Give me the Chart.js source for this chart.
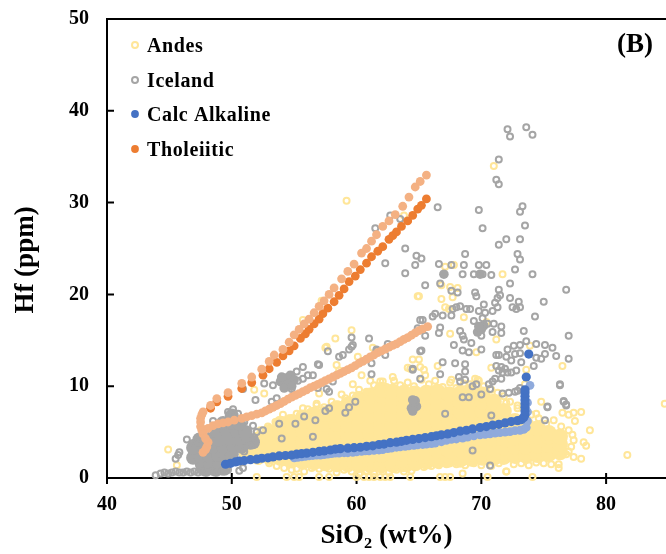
<!DOCTYPE html>
<html>
<head>
<meta charset="utf-8">
<script src="https://cdn.jsdelivr.net/npm/chart.js@4"></script>
<style>
    html, body { margin: 0; padding: 0; background: #fff; overflow: hidden; }
</style>
</head>
<body>
<canvas id="hfChart" width="666" height="554"></canvas>
<script>
// Values: [SiO2, Hf]
const xTicks = [40, 50, 60, 70, 80];
const yTicks = [0, 10, 20, 30, 40, 50];
const legendNames = ['Andes', 'Iceland', 'Calc Alkaline', 'Tholeiitic'];

// Dense part of the Andes cloud, one row per SiO2 column: [x, y, y, ...]
const andesBandColumns = [
    [51.2, 2.6, 3.5],
    [52.1, 2.3, 3.3, 4.2],
    [53.0, 2.3, 3.4, 4.4, 5.0],
    [53.9, 2.2, 3.2, 4.3, 5.4, 5.9],
    [54.8, 1.9, 3.0, 4.1, 5.2, 6.1],
    [55.7, 1.8, 2.9, 4.0, 5.1, 6.2, 6.6],
    [56.6, 1.7, 2.8, 3.9, 4.9, 6.0, 6.9],
    [57.5, 1.6, 2.6, 3.7, 4.8, 5.9, 7.0],
    [58.4, 1.5, 2.6, 3.7, 4.8, 5.9, 6.9, 7.6],
    [59.3, 1.5, 2.6, 3.6, 4.7, 5.8, 6.9, 8.0],
    [60.2, 1.4, 2.5, 3.6, 4.7, 5.8, 6.8, 7.9, 8.6],
    [61.1, 1.4, 2.5, 3.6, 4.7, 5.7, 6.8, 7.9, 9.0],
    [62.0, 1.4, 2.5, 3.6, 4.6, 5.7, 6.8, 7.9, 9.0, 9.6],
    [62.9, 1.4, 2.5, 3.6, 4.6, 5.7, 6.8, 7.9, 8.9, 9.4],
    [63.8, 1.5, 2.6, 3.7, 4.7, 5.8, 6.9, 8.0, 9.0, 9.3],
    [64.7, 1.6, 2.6, 3.7, 4.8, 5.9, 7.0, 8.1, 9.2],
    [65.6, 1.8, 2.8, 3.9, 4.9, 6.0, 7.1, 8.2, 9.3],
    [66.5, 1.9, 3.0, 4.0, 5.0, 6.1, 7.2, 8.3, 9.4],
    [67.4, 2.0, 3.0, 4.1, 5.2, 6.2, 7.2, 8.2, 9.1],
    [68.3, 2.0, 3.1, 4.1, 5.2, 6.3, 7.3, 8.3, 9.2],
    [69.2, 2.1, 3.1, 4.2, 5.2, 6.3, 7.4, 8.4, 9.4],
    [70.1, 2.2, 3.2, 4.2, 5.3, 6.3, 7.3, 8.3, 9.1],
    [71.0, 2.2, 3.2, 4.3, 5.3, 6.3, 7.3, 8.3],
    [71.8, 2.3, 3.3, 4.3, 5.4, 6.4, 7.3],
    [72.7, 2.4, 3.4, 4.4, 5.4, 6.2],
    [73.6, 2.4, 3.4, 4.4, 5.3, 5.8],
    [74.5, 2.5, 3.5, 4.5, 5.4],
    [75.4, 2.6, 3.6, 4.5, 4.9],
    [76.3, 2.8, 3.7, 4.5]
];

const andesRims = [
    [52.3, 5.2], [52.9, 5.6], [53.5, 6.1], [54.1, 6.9], [54.6, 6.5], [55.2, 7.0], [55.7, 7.6], [56.3, 7.2],
    [56.8, 7.9], [57.4, 7.7], [58.0, 8.3], [58.5, 8.0], [59.1, 8.7], [59.7, 9.0], [60.2, 9.6], [60.8, 9.4],
    [61.4, 10.1], [61.9, 10.5], [62.4, 9.9], [63.0, 10.6], [63.5, 10.1], [64.1, 10.4], [64.6, 10.0], [65.2, 10.7],
    [65.8, 10.2], [66.3, 10.6], [66.9, 9.9], [67.5, 10.4], [68.0, 9.8], [68.6, 10.3], [69.1, 10.2], [69.7, 10.7],
    [70.2, 10.0], [70.8, 9.6], [71.3, 9.3], [71.8, 8.9], [72.3, 8.3], [72.9, 7.6], [73.5, 7.1], [74.0, 6.9],
    [74.6, 6.5], [75.2, 5.9], [75.8, 6.3], [76.4, 5.6], [77.0, 5.2], [77.3, 4.7], [77.4, 4.1], [77.2, 3.4],
    [77.0, 2.9], [52.2, 1.9], [53.0, 1.6], [53.6, 1.3], [54.2, 1.1], [54.8, 0.9], [55.2, 1.0], [55.8, 0.7],
    [56.4, 1.1], [57.0, 1.0], [57.8, 1.0], [58.4, 0.6], [59.0, 0.9], [59.6, 0.7], [60.2, 0.5], [60.8, 0.8],
    [61.4, 0.5], [62.0, 0.9], [62.6, 0.6], [63.2, 0.9], [63.8, 0.7], [64.1, 1.1], [64.4, 0.8], [65.4, 1.2],
    [66.0, 1.3], [66.6, 1.4], [67.2, 1.5], [68.0, 1.5], [68.7, 1.4], [69.4, 1.6], [70.0, 1.4], [70.8, 1.3],
    [71.4, 1.6], [72.0, 0.7], [72.6, 1.5], [73.2, 1.6], [73.8, 1.4], [74.4, 1.7], [75.0, 1.6], [75.6, 1.5],
    [76.2, 1.5], [76.2, 1.1], [76.8, 2.6], [77.4, 2.3], [78.0, 2.1]
];

const andesScatter = [
    [84.7, 8.1], [81.7, 2.5], [78.0, 7.2], [77.5, 6.2], [78.7, 5.2], [78.2, 3.9], [78.4, 3.5], [76.5, 7.1],
    [77.0, 6.9], [77.4, 7.1], [76.5, 12.2], [44.9, 3.1], [45.6, 1.4], [52.0, 0.1], [54.4, 0.1], [55.0, 0.1],
    [55.4, 0.1], [57.0, 0.1], [57.8, 0.1], [60.0, 0.1], [60.6, 0.1], [61.0, 0.1], [61.4, 0.1], [61.9, 0.1],
    [62.3, 0.1], [62.7, 0.1], [64.3, 0.1], [66.7, 0.1], [67.1, 0.1], [67.5, 0.1], [70.5, 0.1], [74.1, 0.1],
    [72.0, 0.7], [68.5, 0.5], [59.2, 30.2], [63.8, 28.6], [71.0, 34.0], [64.9, 19.8], [55.7, 17.2], [57.2, 19.3],
    [59.6, 16.1], [58.3, 15.2], [57.5, 14.2], [61.3, 14.2], [60.1, 13.2], [67.1, 23.0], [67.8, 23.2], [71.7, 22.2],
    [65.0, 19.8], [66.8, 21.0], [67.5, 20.8], [68.1, 20.7], [66.8, 19.5], [67.7, 19.7], [67.1, 18.6], [67.4, 18.4],
    [68.6, 17.5], [67.5, 15.7], [71.2, 15.1], [69.6, 13.7], [70.4, 17.0], [65.0, 12.9], [64.1, 12.0], [65.4, 11.8],
    [65.1, 12.1], [66.5, 12.2], [70.8, 12.0], [73.9, 14.4], [73.6, 11.8], [73.5, 10.2], [67.6, 10.7], [69.5, 10.8],
    [69.8, 10.6], [51.8, 9.6], [52.6, 9.2], [57.6, 14.3], [60.4, 11.2], [62.9, 11.0], [64.3, 11.9], [65.5, 11.2],
    [62.1, 10.5], [61.1, 10.6], [59.7, 10.2], [58.8, 9.1], [57.0, 9.2], [56.8, 8.1], [56.1, 7.5], [58.4, 12.3],
    [58.6, 11.7], [74.4, 7.0], [74.8, 8.3], [72.0, 8.2], [72.9, 7.9], [64.5, 12.9]
];

// Solid parts of the Iceland cloud: the big basalt mass, then the small clumps
const icelandMass = [
    [47.9, 0.9], [48.7, 0.9], [49.4, 1.0], [47.6, 1.5], [48.3, 1.4], [49.0, 1.5], [46.9, 2.2], [47.5, 2.4],
    [48.2, 2.4], [48.9, 2.5], [49.5, 2.5], [50.0, 2.6], [46.9, 3.3], [47.7, 3.4], [48.5, 3.4], [49.3, 3.4],
    [50.1, 3.5], [50.8, 3.4], [47.4, 4.2], [48.2, 4.2], [49.0, 4.2], [49.8, 4.3], [50.6, 4.3], [51.3, 4.3],
    [51.7, 3.9], [48.8, 5.1], [49.6, 5.1], [50.4, 5.1], [51.1, 5.0], [49.3, 6.0], [50.0, 6.0], [50.6, 5.9],
    [50.0, 6.8]
];

const icelandClumps = [
    [53.9, 10.5], [54.3, 10.9], [54.7, 11.2], [55.0, 10.7], [54.5, 10.2], [54.2, 9.8], [54.8, 10.0], [54.0, 11.0],
    [64.4, 7.6], [64.6, 8.1], [64.8, 7.8], [64.5, 7.3], [64.7, 8.4], [64.5, 8.5],
    [69.7, 15.9], [70.0, 16.2], [70.2, 16.6], [69.8, 16.5], [67.0, 22.2], [69.9, 22.2]
];

const icelandEdge = [
    [44.3, 0.5], [44.6, 0.6], [44.9, 0.5], [45.2, 0.6], [45.5, 0.7], [45.8, 0.6], [46.1, 0.6], [46.4, 0.7],
    [46.7, 0.6], [47.0, 0.7], [47.3, 0.6], [47.6, 0.7], [48.0, 0.6], [48.4, 0.7], [48.8, 0.6], [49.2, 0.7],
    [43.9, 0.3], [45.8, 2.8], [45.7, 2.5], [45.5, 2.1], [46.4, 4.2], [46.9, 3.8], [47.3, 4.3], [47.9, 4.9],
    [48.5, 6.2], [50.1, 7.5], [49.7, 7.2], [50.5, 7.0], [51.0, 6.1], [51.7, 5.7], [52.0, 5.0], [52.5, 5.2],
    [51.8, 4.4], [51.5, 3.5], [51.0, 2.9], [50.6, 0.8], [50.9, 1.1], [49.7, 0.9], [54.0, 4.3], [55.1, 5.9],
    [55.8, 6.7], [56.5, 4.5], [57.8, 7.6], [59.1, 7.1], [59.9, 8.3], [59.4, 7.7], [56.7, 6.3], [53.8, 5.9],
    [57.5, 7.3], [55.7, 12.1], [55.2, 11.6], [55.7, 10.8], [55.3, 10.6], [56.1, 11.2], [56.5, 11.2], [56.9, 12.4],
    [57.0, 12.3], [57.7, 13.8], [58.6, 13.2], [58.9, 13.4], [59.6, 14.3], [59.6, 15.3], [61.0, 15.2], [61.6, 13.9],
    [59.7, 14.5], [59.4, 14.0], [62.5, 14.6], [62.3, 13.4], [61.6, 14.0], [52.6, 10.3], [53.3, 10.1], [54.8, 9.7],
    [50.9, 9.7], [51.9, 8.5], [53.2, 8.3], [53.6, 8.7], [56.9, 9.8], [57.6, 9.7], [57.8, 9.4], [58.1, 10.5],
    [64.5, 11.8], [61.2, 11.3], [61.2, 12.5], [65.1, 13.8], [65.2, 13.9], [69.3, 3.0], [70.7, 1.35], [75.1, 6.3],
    [75.3, 7.8], [76.6, 8.3], [76.8, 8.0], [76.3, 10.2], [67.1, 7.0], [70.8, 6.8]
];

const icelandScatter = [
    [72.1, 38.0], [73.6, 38.2], [72.3, 37.2], [74.1, 37.4], [71.4, 34.7], [71.2, 32.5], [71.4, 32.0], [66.5, 29.5],
    [69.8, 29.2], [73.3, 29.6], [73.1, 29.0], [70.1, 27.2], [73.5, 27.5], [72.0, 26.0], [71.4, 25.4], [73.1, 26.0],
    [68.7, 24.4], [72.9, 24.4], [73.1, 23.8], [63.9, 25.0], [64.8, 24.2], [65.2, 23.9], [63.5, 28.2], [61.5, 27.2],
    [62.7, 28.6], [64.7, 23.2], [62.3, 23.4], [63.9, 22.3], [65.1, 17.2], [64.9, 16.3], [66.6, 23.3], [67.6, 23.2],
    [68.6, 23.2], [69.8, 23.2], [70.4, 23.2], [72.7, 22.7], [68.5, 22.2], [69.4, 22.2], [70.1, 22.2], [70.8, 22.1],
    [74.1, 22.2], [65.5, 21.0], [66.7, 21.2], [72.3, 21.2], [76.8, 20.5], [71.4, 20.5], [71.5, 19.9], [67.6, 20.4],
    [68.1, 20.2], [69.5, 20.2], [69.6, 19.8], [72.3, 19.6], [71.3, 19.6], [71.1, 19.1], [70.2, 18.9], [75.0, 19.2],
    [73.0, 19.2], [68.0, 18.6], [68.3, 18.7], [68.8, 18.4], [69.1, 18.4], [67.7, 18.4], [69.8, 18.2], [70.3, 18.0],
    [70.9, 18.2], [71.3, 18.6], [72.8, 18.4], [73.1, 18.6], [72.5, 18.6], [67.6, 17.7], [66.9, 17.7], [66.1, 17.6],
    [66.3, 17.9], [65.3, 17.2], [74.3, 17.6], [69.4, 17.1], [70.1, 17.4], [70.5, 16.8], [71.0, 16.8], [71.6, 16.5],
    [70.0, 15.5], [70.9, 15.9], [71.6, 15.8], [73.4, 16.0], [77.0, 15.5], [66.7, 16.4], [66.6, 15.8], [65.5, 15.5],
    [68.3, 16.0], [68.5, 15.5], [68.6, 15.1], [69.2, 14.7], [67.8, 14.5], [70.0, 14.0], [68.5, 13.9], [69.0, 13.7],
    [73.6, 14.9], [74.4, 14.6], [75.1, 14.5], [75.7, 14.2], [72.1, 14.0], [72.6, 14.4], [73.1, 14.5], [72.7, 13.5],
    [73.1, 13.6], [75.1, 13.5], [76.0, 13.3], [77.0, 13.0], [74.8, 13.0], [74.4, 13.1], [71.2, 13.4], [71.4, 13.4],
    [72.0, 13.2], [72.4, 12.8], [73.2, 12.6], [66.9, 12.6], [67.9, 12.5], [68.7, 12.4], [64.5, 11.9], [74.2, 12.2],
    [71.2, 12.2], [71.6, 12.1], [71.7, 11.5], [71.4, 11.7], [71.9, 11.9], [72.8, 11.7], [72.4, 11.5], [72.1, 11.5],
    [66.7, 11.3], [68.7, 11.6], [68.2, 11.0], [68.7, 10.7], [68.3, 10.5], [71.1, 10.8], [71.6, 10.8], [70.9, 10.5],
    [65.1, 10.8], [69.6, 10.2], [69.3, 10.0], [70.6, 10.2], [70.7, 9.7], [76.3, 10.1], [73.1, 9.8], [70.0, 9.1],
    [68.5, 8.8], [69.0, 8.8], [71.7, 9.2], [72.2, 9.3], [72.7, 9.4], [72.9, 9.5], [76.6, 8.4], [76.8, 7.9],
    [75.3, 7.7]
];

const calcAlkaline = [
    [49.5, 1.5], [49.9, 1.6], [50.3, 1.75], [50.6, 1.85], [51.0, 1.9], [51.5, 2.0], [52.0, 2.05], [52.4, 2.15],
    [52.9, 2.2], [53.3, 2.3], [53.8, 2.4], [54.3, 2.45], [54.8, 2.5], [55.2, 2.6], [55.6, 2.65], [56.0, 2.7],
    [56.5, 2.8], [57.0, 2.9], [57.4, 2.95], [57.9, 3.05], [58.3, 3.15], [58.7, 3.2], [59.3, 3.25], [59.8, 3.3],
    [60.3, 3.35], [60.8, 3.45], [61.3, 3.5], [61.8, 3.65], [62.2, 3.7], [62.7, 3.85], [63.2, 3.9], [63.6, 4.0],
    [64.0, 4.1], [64.5, 4.2], [65.0, 4.3], [65.5, 4.4], [66.0, 4.5], [66.4, 4.6], [66.8, 4.7], [67.3, 4.8],
    [67.8, 4.95], [68.3, 5.1], [68.8, 5.2], [69.3, 5.35], [69.9, 5.5], [70.4, 5.6], [70.9, 5.75], [71.4, 5.85],
    [71.9, 6.0], [72.4, 6.15], [72.9, 6.25], [73.2, 6.35], [73.4, 6.6], [73.5, 6.9], [73.5, 7.3], [73.5, 7.7],
    [73.5, 8.1], [73.5, 8.5], [73.5, 8.9], [73.5, 9.3], [73.5, 9.6], [73.6, 11.0], [73.8, 13.5]
];

const calcAlkalineLight = [
    [55.0, 2.2], [55.3, 2.25], [55.6, 2.3], [55.9, 2.35], [56.2, 2.4], [56.5, 2.45], [56.8, 2.5], [57.1, 2.5],
    [57.4, 2.55], [57.7, 2.6], [58.0, 2.65], [58.3, 2.7], [58.6, 2.7], [59.0, 2.75], [59.3, 2.75], [59.7, 2.8],
    [60.0, 2.85], [60.4, 2.9], [60.7, 2.95], [61.0, 2.95], [61.4, 3.0], [61.8, 3.05], [62.1, 3.1], [62.5, 3.2],
    [62.8, 3.25], [63.2, 3.35], [63.5, 3.4], [63.9, 3.45], [64.2, 3.5], [64.6, 3.55], [64.9, 3.6], [65.3, 3.65],
    [65.6, 3.7], [66.0, 3.75], [66.3, 3.8], [66.8, 3.95], [67.2, 4.1], [67.6, 4.2], [68.0, 4.25], [68.5, 4.35],
    [68.9, 4.45], [69.4, 4.6], [69.9, 4.7], [70.3, 4.75], [70.7, 4.8], [71.1, 4.9], [71.5, 4.95], [71.9, 5.0],
    [72.3, 5.05], [72.7, 5.15], [73.1, 5.2], [73.4, 5.3], [73.6, 5.5], [73.7, 6.2], [73.7, 7.2], [73.7, 8.2],
    [73.9, 10.1]
];

const tholeiitic = [
    [48.3, 7.6], [48.8, 8.3], [49.7, 8.9], [50.8, 9.75], [51.6, 10.4], [52.5, 11.2], [53.0, 11.9], [53.6, 12.6],
    [54.1, 13.3], [54.6, 13.85], [55.0, 14.4], [55.5, 15.2], [55.9, 15.7], [56.2, 16.2], [56.6, 16.8], [57.0, 17.3],
    [57.3, 17.9], [57.7, 18.5], [58.2, 19.2], [58.6, 19.9], [59.0, 20.6], [59.4, 21.4], [59.9, 22.0], [60.3, 22.7],
    [60.8, 23.4], [61.2, 24.1], [61.7, 24.7], [62.1, 25.2], [62.6, 26.0], [62.9, 26.4], [63.2, 26.8], [63.6, 27.4],
    [64.1, 28.0], [64.5, 28.6], [64.9, 29.3], [65.2, 29.7], [65.6, 30.4]
];

const tholeiiticLight = [
    [47.7, 2.8], [47.9, 3.1], [48.0, 3.4], [48.1, 3.9], [47.9, 4.3], [47.7, 4.8], [47.6, 5.2], [47.5, 5.6],
    [47.5, 6.1], [47.5, 6.5], [47.6, 6.9], [47.7, 7.2], [48.3, 7.9], [48.8, 8.65], [49.7, 9.3], [50.8, 10.3],
    [51.6, 11.0], [52.4, 11.85], [53.0, 12.7], [53.4, 13.4], [54.1, 14.0], [54.6, 14.8], [55.0, 15.6], [55.4, 16.2],
    [55.8, 16.8], [56.2, 17.3], [56.6, 18.0], [57.0, 18.7], [57.4, 19.3], [57.8, 20.0], [58.2, 20.7], [58.8, 21.7],
    [59.3, 22.5], [59.8, 23.3], [60.4, 24.5], [60.8, 25.0], [61.2, 25.8], [61.6, 26.5], [62.1, 27.4], [62.6, 28.0],
    [63.1, 28.7], [63.7, 29.6], [64.2, 30.6], [64.7, 31.7], [65.1, 32.3], [65.6, 33.0]
];

const tholeiiticLowerBranch = [
    [48.1, 5.4], [48.5, 5.7], [48.9, 5.9], [49.3, 6.0], [49.7, 6.1], [50.2, 6.3], [50.8, 6.5], [51.2, 6.65],
    [51.6, 6.8], [52.0, 6.95], [52.4, 7.1], [52.7, 7.3], [53.0, 7.5], [53.3, 7.7], [53.6, 7.9], [53.9, 8.1],
    [54.2, 8.35], [54.5, 8.6], [54.8, 8.8], [55.1, 9.0], [55.4, 9.2], [55.7, 9.4], [56.0, 9.6], [56.3, 9.85],
    [56.6, 10.0], [56.9, 10.2], [57.2, 10.4], [57.5, 10.6], [57.8, 10.8], [58.1, 11.0], [58.4, 11.2], [58.7, 11.4],
    [59.0, 11.6], [59.3, 11.8], [59.6, 12.0], [59.9, 12.25], [60.2, 12.5], [60.5, 12.7], [60.8, 12.95], [61.1, 13.2],
    [61.4, 13.4], [61.7, 13.65], [62.0, 13.85], [62.3, 14.05], [62.6, 14.25], [62.9, 14.45], [63.2, 14.6], [63.5, 14.85],
    [63.8, 15.1], [64.1, 15.3], [64.4, 15.55], [64.7, 15.8], [65.0, 16.05], [65.3, 16.25], [65.7, 16.5]
];

const toPoints = pairs => pairs.map(p => ({ x: p[0], y: p[1] }));
const bandPoints = andesBandColumns.flatMap(col => col.slice(1).map(y => ({ x: col[0], y: y })));

const YELLOW = '#FFE699', GREY = '#A5A5A5', BLUE = '#4472C4', ORANGE = '#ED7D31';
const LIGHT_BLUE = '#8FAADC', LIGHT_ORANGE = '#F4B183';
const SERIF = '"Liberation Serif", "Times New Roman", serif';

function ringSet(label, pairs, color) {
    return {
        label: label,
        data: toPoints(pairs),
        pointRadius: 3,
        pointBorderWidth: 2,
        pointBackgroundColor: 'transparent',
        pointBorderColor: color,
        clip: false
    };
}

function dotSet(label, points, color, radius) {
    return {
        label: label,
        data: points,
        pointRadius: radius,
        pointBorderWidth: 0,
        pointBackgroundColor: color,
        clip: false
    };
}

// tick marks, top frame line, legend and the free labels
const figureDecor = {
    id: 'figureDecor',
    beforeDatasetsDraw(chart) {
        const ctx = chart.ctx;
        const area = chart.chartArea;
        ctx.save();
        ctx.strokeStyle = '#000';
        ctx.lineWidth = 2;
        ctx.beginPath();
        ctx.moveTo(area.left, area.top);
        ctx.lineTo(area.right, area.top);
        xTicks.forEach(v => {
            const px = chart.scales.x.getPixelForValue(v);
            ctx.moveTo(px, area.bottom - 5);
            ctx.lineTo(px, area.bottom + 6);
        });
        yTicks.forEach(v => {
            const py = chart.scales.y.getPixelForValue(v);
            ctx.moveTo(area.left, py);
            ctx.lineTo(area.left + 7, py);
        });
        ctx.stroke();
        ctx.restore();
    },
    afterDatasetsDraw(chart) {
        const ctx = chart.ctx;
        ctx.save();
        ctx.fillStyle = '#000';
        ctx.textBaseline = 'middle';
        ctx.font = 'bold 20px ' + SERIF;
        ctx.letterSpacing = '0.6px';
        const rowY = [45, 80, 114, 149];
        legendNames.forEach((name, i) => ctx.fillText(name, 147, rowY[i] + 1.5));
        ctx.letterSpacing = '0px';

        ctx.lineWidth = 2;
        ctx.strokeStyle = YELLOW;
        ctx.beginPath();
        ctx.arc(135, rowY[0], 3, 0, Math.PI * 2);
        ctx.stroke();
        ctx.strokeStyle = GREY;
        ctx.beginPath();
        ctx.arc(135, rowY[1], 3, 0, Math.PI * 2);
        ctx.stroke();
        ctx.fillStyle = BLUE;
        ctx.beginPath();
        ctx.arc(135, rowY[2], 3.9, 0, Math.PI * 2);
        ctx.fill();
        ctx.fillStyle = ORANGE;
        ctx.beginPath();
        ctx.arc(135, rowY[3], 3.9, 0, Math.PI * 2);
        ctx.fill();

        ctx.fillStyle = '#000';
        ctx.font = 'bold 27px ' + SERIF;
        ctx.fillText('(B)', 617, 45);

        ctx.translate(26, 260);
        ctx.rotate(-Math.PI / 2);
        ctx.textAlign = 'center';
        ctx.fillText('Hf (ppm)', 0, 0);
        ctx.restore();
    }
};

new Chart(document.getElementById('hfChart'), {
    type: 'scatter',
    data: {
        // Chart.js paints the first dataset last, so the topmost series comes first
        datasets: [
            dotSet('Tholeiitic light', toPoints(tholeiiticLight), LIGHT_ORANGE, 4.4),
            dotSet('Tholeiitic lower branch', toPoints(tholeiiticLowerBranch), LIGHT_ORANGE, 4.4),
            dotSet('Tholeiitic', toPoints(tholeiitic), ORANGE, 4.4),
            dotSet('Calc Alkaline', toPoints(calcAlkaline), BLUE, 4.6),
            dotSet('Calc Alkaline light', toPoints(calcAlkalineLight), LIGHT_BLUE, 4.4),
            ringSet('Iceland', icelandScatter, GREY),
            ringSet('Iceland edge', icelandEdge, GREY),
            dotSet('Iceland clumps', toPoints(icelandClumps), GREY, 4.8),
            dotSet('Iceland mass', toPoints(icelandMass), GREY, 7),
            ringSet('Andes', andesScatter, YELLOW),
            ringSet('Andes rim', andesRims, YELLOW),
            dotSet('Andes band', bandPoints, YELLOW, 8)
        ]
    },
    options: {
        responsive: false,
        animation: false,
        events: [],
        layout: { autoPadding: false, padding: { top: 19 } },
        plugins: { legend: { display: false }, tooltip: { enabled: false } },
        scales: {
            x: {
                type: 'linear',
                min: 40,
                max: 84.8,
                afterFit(scale) {
                    scale.height = 76;
                    scale.paddingLeft = 0;
                    scale.paddingRight = 0;
                },
                grid: { display: false },
                border: { display: true, color: '#000', width: 2 },
                ticks: {
                    stepSize: 10,
                    includeBounds: false,
                    maxRotation: 0,
                    padding: 7,
                    color: '#000',
                    font: { family: SERIF, weight: 'bold', size: 20 }
                },
                title: {
                    display: true,
                    text: 'SiO\u2082 (wt%)',
                    color: '#000',
                    padding: { top: 2, bottom: 2 },
                    font: { family: SERIF, weight: 'bold', size: 27 }
                }
            },
            y: {
                min: 0,
                max: 50,
                afterFit(scale) {
                    scale.width = 107;
                    scale.paddingTop = 0;
                    scale.paddingBottom = 0;
                },
                grid: { display: false },
                border: { display: true, color: '#000', width: 2 },
                ticks: {
                    stepSize: 10,
                    padding: 10,
                    color: '#000',
                    font: { family: SERIF, weight: 'bold', size: 20 }
                }
            }
        }
    },
    plugins: [figureDecor]
});
</script>
</body>
</html>
